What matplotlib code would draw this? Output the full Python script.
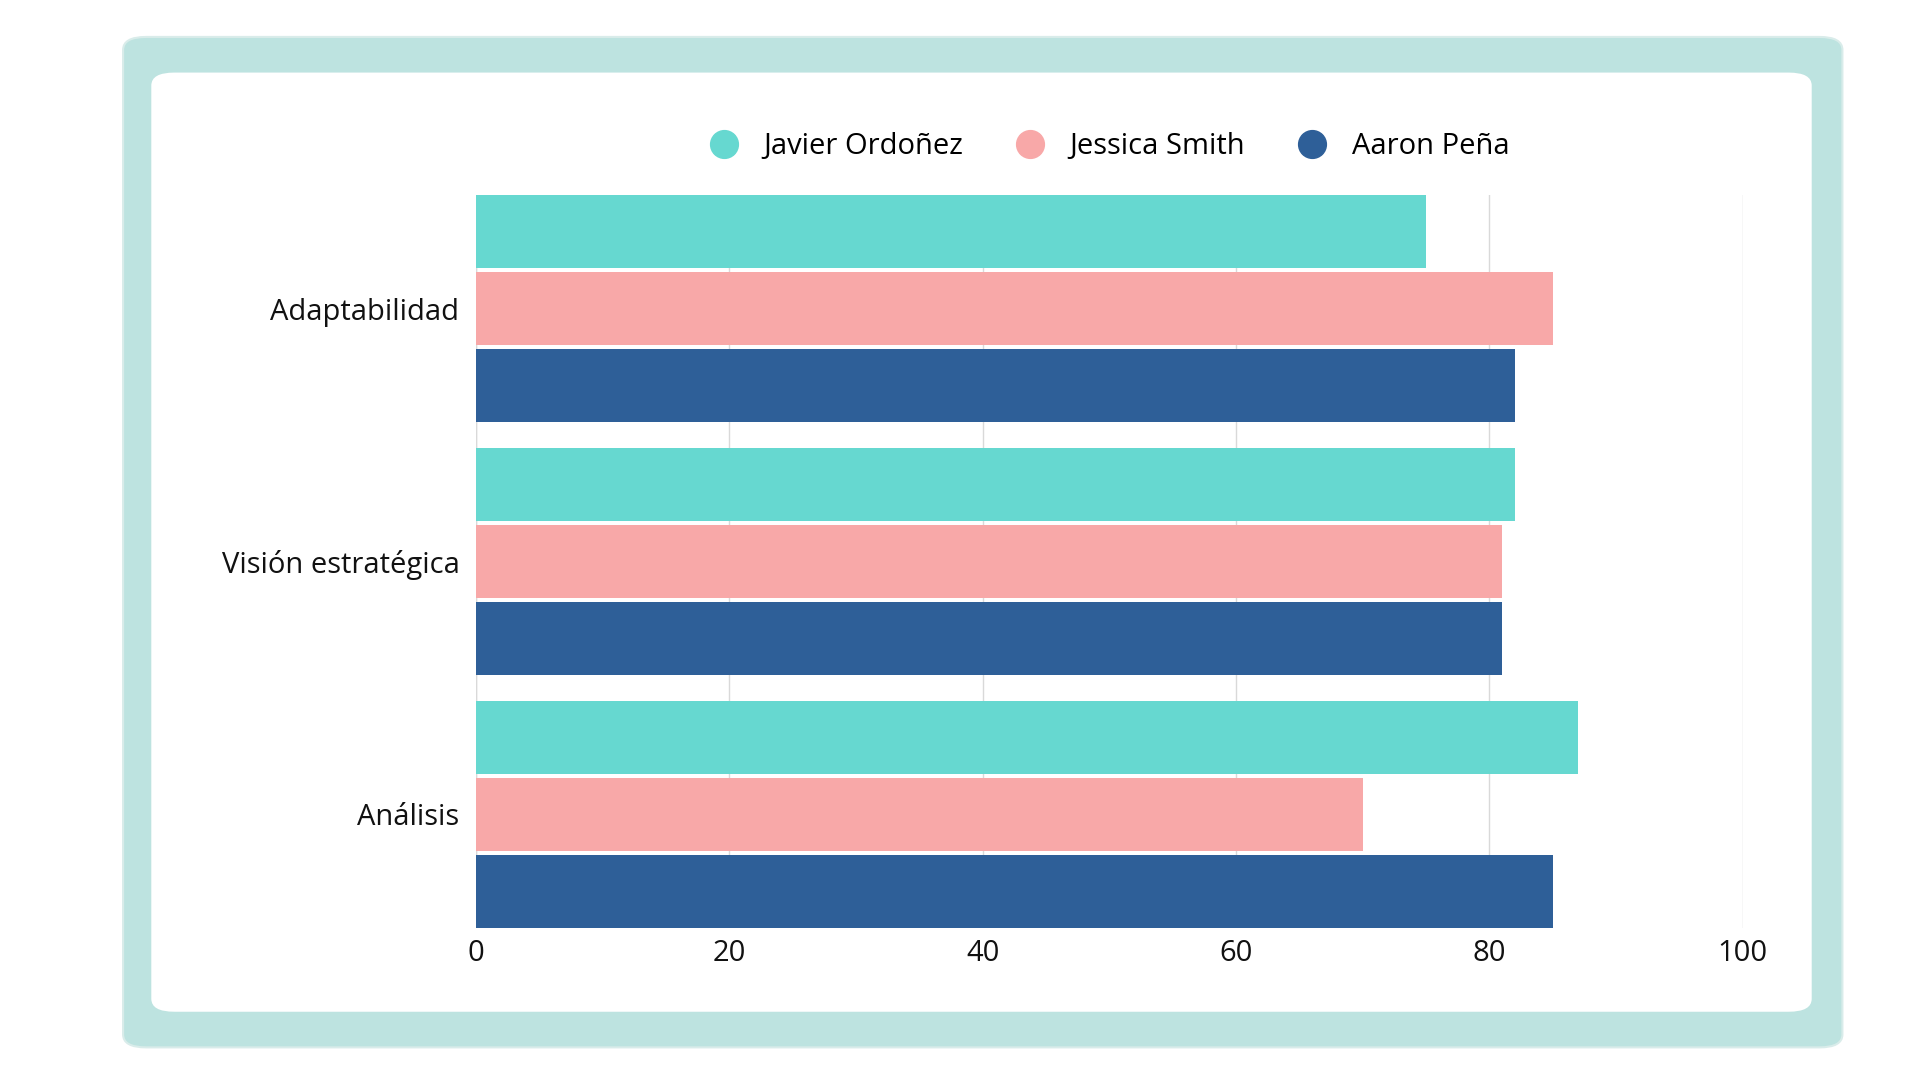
import numpy as np
import matplotlib.pyplot as plt
from matplotlib.patches import FancyBboxPatch

categories = ["Adaptabilidad", "Visión estratégica", "Análisis"]
series_names = ["Javier Ordoñez", "Jessica Smith", "Aaron Peña"]
javier = [75, 82, 87]
jessica = [85, 81, 70]
aaron = [82, 81, 85]
x_ticks = [0, 20, 40, 60, 80, 100]

colors = ["#66D8D0", "#F8A8A8", "#2E5F98"]

plt.rcParams['font.family'] = ['Open Sans', 'DejaVu Sans']

fig = plt.figure(figsize=(19.2, 10.8), dpi=100)
fig.patch.set_facecolor("white")

# frame background
outer = FancyBboxPatch((0.0641, 0.0302), 0.8955, 0.9356, boxstyle="round,pad=0,rounding_size=0.012",
                       transform=fig.transFigure, facecolor="#BDE3E0", edgecolor="#d9ecea", lw=1.5, zorder=-2)
inner = FancyBboxPatch((0.0788, 0.0632), 0.8648, 0.8696, boxstyle="round,pad=0,rounding_size=0.012",
                       transform=fig.transFigure, facecolor="white", edgecolor="none", zorder=-1)
fig.patches.extend([outer, inner])

ax = fig.add_axes([0.248, 0.1412, 0.6597, 0.6778])
ax.set_facecolor("none")
ax.set_zorder(2)

y = np.arange(len(categories))
step = 0.304
h = 0.287
for k, (vals, name) in enumerate(zip([javier, jessica, aaron], series_names)):
    ax.barh(y + (k - 1) * step, vals, height=h, color=colors[k], label=name, zorder=3)

ax.set_ylim(2 + step + h / 2, -step - h / 2)
ax.set_xlim(0, 100)
ax.set_xticks(x_ticks)
ax.set_yticks(y)
ax.set_yticklabels(categories)
ax.tick_params(axis='both', length=0, labelsize=21, colors="#111111")
ax.tick_params(axis='x', pad=8)
ax.tick_params(axis='y', pad=12)
ax.grid(axis='x', color="#d9d9d9", lw=1, zorder=0)
ax.axvline(0, color="#d9d9d9", lw=1, zorder=1)
for s in ax.spines.values():
    s.set_visible(False)

handles = [plt.Line2D([], [], marker='o', linestyle='none', markersize=20, color=c) for c in colors]
leg = fig.legend(handles, series_names, loc='center', bbox_to_anchor=(0.574, 0.864), ncol=3, frameon=False,
                 fontsize=21, handletextpad=0.35, columnspacing=1.3)
leg.set_zorder(3)

fig.savefig("out.png", dpi=100)
